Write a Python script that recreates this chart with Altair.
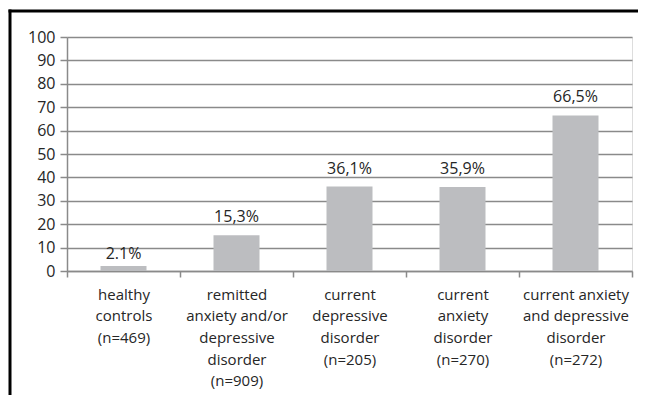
import altair as alt
import pandas as pd

categories = [
    "healthy|controls|(n=469)",
    "remitted|anxiety and/or|depressive|disorder|(n=909)",
    "current|depressive|disorder|(n=205)",
    "current|anxiety|disorder|(n=270)",
    "current anxiety|and depressive|disorder|(n=272)",
]
values = [2.1, 15.3, 36.1, 35.9, 66.5]
value_labels = ["2.1%", "15,3%", "36,1%", "35,9%", "66,5%"]
y_ticks = [0, 10, 20, 30, 40, 50, 60, 70, 80, 90, 100]

df = pd.DataFrame({"cat": categories, "val": values, "lab": value_labels})

FONT = "Open Sans"
TXT = "#262626"
GRID = "#8a8a8a"

x = alt.X("cat:N", sort=categories, title=None,
          scale=alt.Scale(paddingInner=0, paddingOuter=0),
          axis=alt.Axis(labelAngle=0, labelExpr="split(datum.label, '|')",
                        labelFont=FONT, labelFontSize=15, labelColor=TXT,
                        labelLineHeight=21.7, labelPadding=10, labelBaseline="top",
                        tickBand="extent", tickSize=6, tickColor=GRID, tickWidth=1.5,
                        domainColor=GRID, domainWidth=1.5, grid=False))
y = alt.Y("val:Q", title=None,
          scale=alt.Scale(domain=[0, 100], nice=False),
          axis=alt.Axis(values=y_ticks, labelOverlap=False,
                        labelFont=FONT, labelFontSize=16,
                        labelColor=TXT, labelPadding=5, tickSize=7, tickColor=GRID,
                        tickWidth=1.5, domainColor=GRID, domainWidth=1.5,
                        grid=True, gridColor=GRID, gridWidth=1.5))

bars = alt.Chart(df).mark_bar(size=46, color="#bcbdc0").encode(x=x, y=y)
texts_dot = alt.Chart(df).transform_filter("indexof(datum.lab, ',') < 0").mark_text(
    font=FONT, fontSize=16, color=TXT, baseline="bottom", dy=-4).encode(
    x=x, y=y, text="lab:N")
texts_comma = alt.Chart(df).transform_filter("indexof(datum.lab, ',') >= 0").mark_text(
    font=FONT, fontSize=16, color=TXT, baseline="bottom", dy=-10).encode(
    x=x, y=y, text="lab:N")

frame_df = pd.DataFrame({"k": [0]})
left_rule = alt.Chart(frame_df).mark_rule(color="black", strokeWidth=3, clip=False).encode(
    x=alt.value(-57), y=alt.value(-27.5), y2=alt.value(358))
top_rule = alt.Chart(frame_df).mark_rule(color="black", strokeWidth=3, clip=False).encode(
    x=alt.value(-58.5), x2=alt.value(571), y=alt.value(-26))

chart = alt.layer(bars, texts_dot, texts_comma, left_rule, top_rule).properties(
    width=565, height=234,
    autosize=alt.AutoSizeParams(type="none"),
    padding={"left": 59, "top": 29, "right": 6, "bottom": 124},
).configure_view(stroke=None).configure(background="white")

chart.save("out.html", embed_options={"renderer": "svg", "actions": False})
